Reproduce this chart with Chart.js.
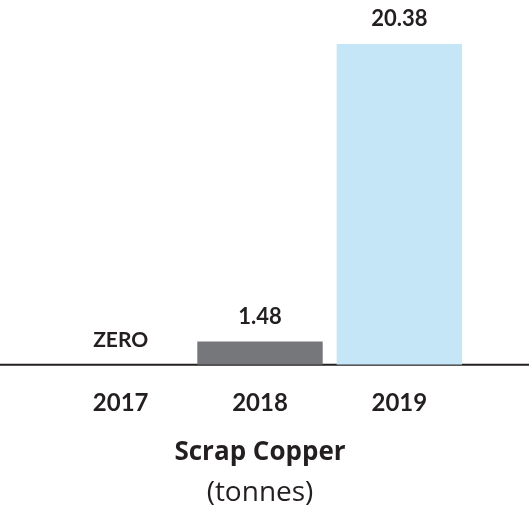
<!DOCTYPE html>
<html>
<head>
<meta charset="utf-8">
<script src="https://cdn.jsdelivr.net/npm/chart.js@4.4.1/dist/chart.umd.min.js"></script>
<style>
  html, body { margin: 0; padding: 0; background: #fff; }
  #wrap { width: 529px; height: 506px; }
</style>
</head>
<body>
<div id="wrap"><canvas id="copper-chart" width="529" height="506"></canvas></div>
<script>
(function() {
	'use strict';

	// data
	var years = ['2017', '2018', '2019'];
	var tonnes = [0, 1.48, 20.38];
	var valueLabels = ['ZERO', '1.48', '20.38'];
	var barColors = ['#76777b', '#76777b', '#c4e6f6'];

	var ink = '#231f20';
	var labelFont = 'Lato, "DejaVu Sans", sans-serif';
	var titleFont = '"Open Sans", "Noto Sans", sans-serif';
	var tickPad = 24;
	var tickLine = 24 * 1.2;

	// full-width baseline under the bars
	var baseline = {
		id: 'baseline',
		beforeDatasetsDraw: function(chart) {
			var y = chart.scales.y.getPixelForValue(0);
			var ctx = chart.ctx;
			ctx.save();
			ctx.strokeStyle = ink;
			ctx.lineWidth = 2;
			ctx.beginPath();
			ctx.moveTo(0, y);
			ctx.lineTo(chart.width, y);
			ctx.stroke();
			ctx.restore();
		}
	};

	// value text above each bar
	var barValues = {
		id: 'barValues',
		afterDatasetsDraw: function(chart) {
			var ctx = chart.ctx;
			var meta = chart.getDatasetMeta(0);
			ctx.save();
			ctx.fillStyle = ink;
			ctx.textAlign = 'center';
			ctx.textBaseline = 'middle';
			meta.data.forEach(function(bar, i) {
				var isWord = isNaN(parseFloat(valueLabels[i]));
				ctx.font = 'bold ' + (isWord ? 21 : 22) + 'px ' + labelFont;
				ctx.fillText(valueLabels[i], bar.x, bar.y - 25);
			});
			ctx.restore();
		}
	};

	new Chart(document.getElementById('copper-chart'), {
		type: 'bar',
		data: {
			labels: years,
			datasets: [{
				data: tonnes,
				backgroundColor: barColors,
				borderWidth: 0,
				barPercentage: 0.9,
				categoryPercentage: 1.0
			}]
		},
		options: {
			responsive: false,
			animation: false,
			layout: {
				padding: { top: 44, left: 51, right: 60, bottom: 0 }
			},
			plugins: {
				legend: { display: false },
				tooltip: { enabled: false },
				title: {
					display: true,
					position: 'bottom',
					weight: 1000,
					text: 'Scrap Copper',
					color: ink,
					font: { family: titleFont, size: 26, weight: 'bold', lineHeight: 1.2 },
					padding: { top: 19, bottom: 0 }
				},
				subtitle: {
					display: true,
					position: 'bottom',
					weight: 1500,
					text: '(tonnes)',
					color: ink,
					font: { family: titleFont, size: 28, weight: 'normal', lineHeight: 0.9 },
					padding: { top: 13, bottom: 0 }
				}
			},
			scales: {
				x: {
					grid: { display: false, drawTicks: false },
					border: { display: false },
					ticks: {
						color: ink,
						padding: tickPad,
						font: { family: labelFont, size: 24, weight: 'bold', lineHeight: 1.2 }
					},
					afterFit: function(scale) {
						scale.height = tickPad + tickLine;
					}
				},
				y: {
					display: false,
					min: 0,
					max: Math.max.apply(null, tonnes)
				}
			}
		},
		plugins: [baseline, barValues]
	});
})();
</script>
</body>
</html>
